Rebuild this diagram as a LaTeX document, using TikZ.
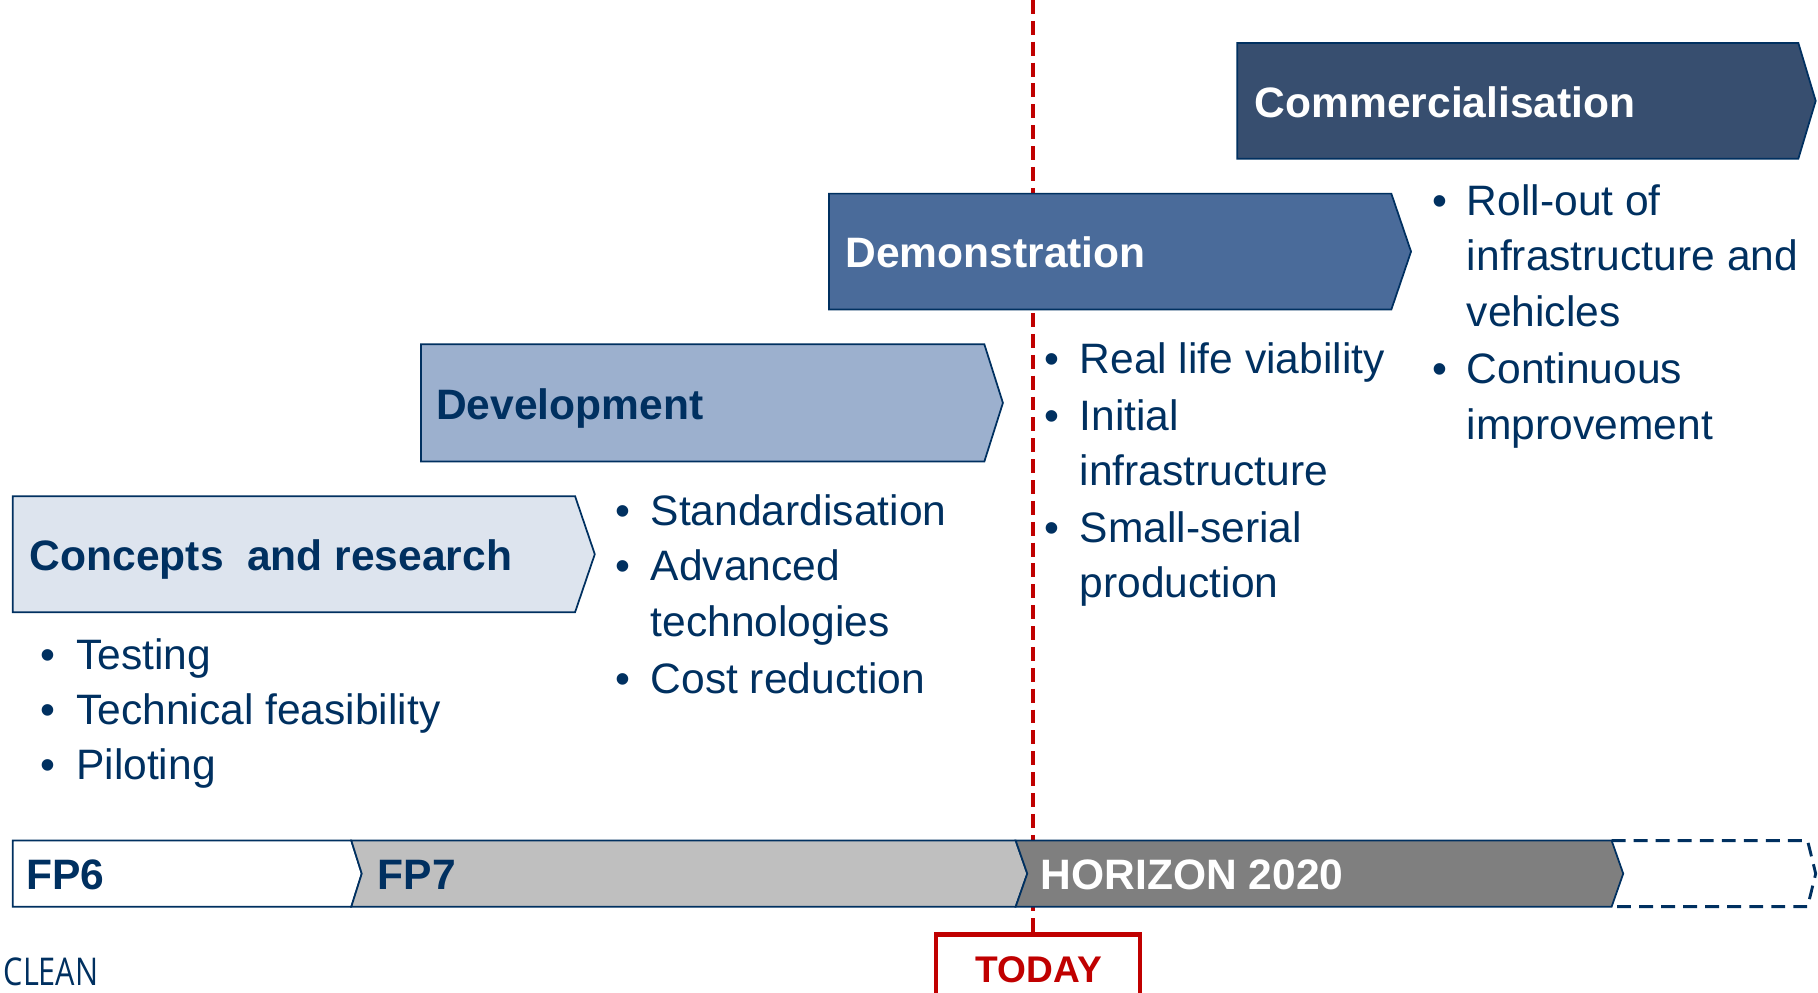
\documentclass[tikz,border=0pt]{standalone}
\usepackage{fontspec}
\setmainfont{Liberation Sans}
\newfontfamily\cleanfont{Open Sans}
\definecolor{navy}{RGB}{0,48,96}
\definecolor{todayred}{RGB}{192,0,0}
\definecolor{commfill}{RGB}{55,78,111}
\definecolor{demofill}{RGB}{74,107,154}
\definecolor{devfill}{RGB}{156,176,206}
\definecolor{conceptfill}{RGB}{221,228,238}
\definecolor{fpsevenfill}{RGB}{191,191,191}
\definecolor{horizonfill}{RGB}{127,127,127}
\begin{document}
\begin{tikzpicture}[x=1pt,y=-1pt,
  stagebox/.style={draw=navy, line width=1.5pt, line join=miter},
  barbox/.style={draw=navy, line width=1.5pt, line join=miter},
  head/.style={anchor=base west, inner sep=0pt, font=\fontsize{36.7}{40}\selectfont\bfseries},
  item/.style={anchor=base west, inner sep=0pt, text=navy, font=\fontsize{36.7}{40}\selectfont},
  redline/.style={draw=todayred, line width=3pt, dash pattern=on 12pt off 6pt}]
\useasboundingbox (0,0) rectangle (1568,856);
\clip (0,0) rectangle (1568,856);

% today line
\coordinate (ltop) at (891,0);
\coordinate (lbot) at (891,806);
\draw[redline] (ltop) -- (lbot);

% stage arrows
\draw[stagebox, fill=conceptfill] (11,428) -- (496,428) -- (513,478) -- (496,528) -- (11,528) -- cycle;
\draw[stagebox, fill=devfill] (363,297) -- (849,297) -- (865,347.5) -- (849,398) -- (363,398) -- cycle;
\draw[stagebox, fill=demofill] (715,167) -- (1200,167) -- (1217,217) -- (1200,267) -- (715,267) -- cycle;
\draw[stagebox, fill=commfill] (1067,37) -- (1551,37) -- (1566,87) -- (1551,137) -- (1067,137) -- cycle;

\node[head, text=navy] (concepts) at (25.5,492) {Concepts\ \ and research};
\node[head, text=navy] (development) at (376,361.5) {Development};
\node[head, text=white] (demonstration) at (729,231) {Demonstration};
\node[head, text=white] (commercialisation) at (1082,101) {Commercialisation};

% concepts bullets
\node[item] (cb1) at (35,577) {•};
\node[item] (ct1) at (65.5,577) {Testing};
\node[item] (cb2) at (35,625) {•};
\node[item] (ct2) at (65.5,625) {Technical feasibility};
\node[item] (cb3) at (35,672.5) {•};
\node[item] (ct3) at (65.5,672.5) {Piloting};

% development bullets
\node[item] (db1) at (530.5,453) {•};
\node[item] (dt1) at (561,453) {Standardisation};
\node[item] (db2) at (530.5,501) {•};
\node[item] (dt2) at (561,501) {Advanced};
\node[item] (dt2b) at (561,549) {technologies};
\node[item] (db3) at (530.5,598) {•};
\node[item] (dt3) at (561,598) {Cost reduction};

% demonstration bullets
\node[item] (mb1) at (901,322) {•};
\node[item] (mt1) at (931,322) {Real life viability};
\node[item] (mb2) at (901,371) {•};
\node[item] (mt2) at (931,371) {Initial};
\node[item] (mt2b) at (931,419) {infrastructure};
\node[item] (mb3) at (901,467.5) {•};
\node[item] (mt3) at (931,467.5) {Small-serial};
\node[item] (mt3b) at (931,515) {production};

% commercialisation bullets
\node[item] (kb1) at (1235,185.5) {•};
\node[item] (kt1) at (1265,185.5) {Roll-out of};
\node[item] (kt1b) at (1265,233.5) {infrastructure and};
\node[item] (kt1c) at (1265,282) {vehicles};
\node[item] (kb2) at (1235,330.5) {•};
\node[item] (kt2) at (1265,330.5) {Continuous};
\node[item] (kt2b) at (1265,379) {improvement};

% programme bar
\draw[barbox, fill=white] (11,725) -- (303,725) -- (312,753.5) -- (303,782) -- (11,782) -- cycle;
\draw[barbox, fill=fpsevenfill] (303,725) -- (876,725) -- (886,753.5) -- (876,782) -- (303,782) -- (312,753.5) -- cycle;
\draw[barbox, fill=horizonfill] (876,725) -- (1390,725) -- (1400,753.5) -- (1390,782) -- (876,782) -- (886,753.5) -- cycle;
\draw[draw=navy, line width=2.5pt, dash pattern=on 12pt off 7pt] (1390,725) -- (1559,725) -- (1566,753.5) -- (1559,782) -- (1390,782);

\node[head, text=navy] (fp6) at (22.5,767) {FP6};
\node[head, text=navy] (fp7) at (325.5,767) {FP7};
\node[head, text=white] (h2020) at (897.5,767) {HORIZON 2020};

% today box
\draw[draw=todayred, line width=3.5pt, fill=white] (807,870) -- (807,806) -- (983,806) -- (983,870);
\node[anchor=base, inner sep=0pt, text=todayred, font=\fontsize{32}{34}\selectfont\bfseries] (today) at (896,847) {TODAY};

% footer
\node[anchor=base west, inner sep=0pt, text=navy, font=\cleanfont\fontsize{33}{36}\selectfont] (clean) at (3,850) {\scalebox{0.8}[1]{CLEAN}};
\end{tikzpicture}
\end{document}
